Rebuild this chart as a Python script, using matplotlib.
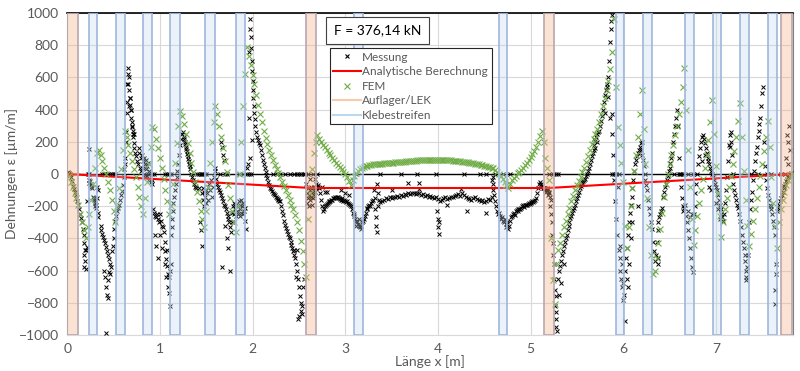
import numpy as np
import matplotlib.pyplot as plt
from matplotlib.lines import Line2D

plt.rcParams['font.family'] = ['Lato', 'DejaVu Sans']

# FEM results, one node every 2 cm from x = 0 to x = 7.82 m
FEM_STEP = 0.02
FEM_Y = [
    0, -15, -50, -80, -115, -150, -195, -250, -300, -350,          # 0.00
    -400, -330, -250, -160, -60, 40, 130, 150, 120, 80,            # 0.20
    40, 0, -50, -100, -160, -230, -300, -200, -90, 30,             # 0.40
    150, 270, 230, 180, 130, 80, 30, -20, -80, -140,               # 0.60
    -200, -250, -150, -50, 60, 170, 290, 280, 220, 160,            # 0.80
    100, 40, -30, -100, -170, -250, -200, -60, 70, 190,            # 1.00
    300, 390, 360, 310, 250, 190, 130, 70, 10, -50,                # 1.20
    -110, -170, -230, -280, -330, -230, -80, 70, 200, 320,         # 1.40
    420, 370, 300, 230, 160, 80, 10, -70, -150, -230,              # 1.60
    -300, -360, -200, 0, 200, 420, 620, 790, 730, 680,             # 1.80
    615, 560, 490, 430, 375, 320, 270, 224, 185, 150,              # 2.00
    120, 85, 56, 30, 5, -20, -50, -75, -100, -130,                 # 2.20
    -160, -190, -220, -255, -300, -350, -416, -480, -560, -640,    # 2.40
    -280, -120, 30, 130, 200, 245, 220, 200, 180, 165,             # 2.60
    150, 130, 115, 100, 85, 70, 55, 43, 30, 15,                    # 2.80
    0, -20, -45, -70, -40, -15, 5, 20, 30, 38,                     # 3.00
    44, 48, 52, 55, 57, 60, 61, 62, 63, 64,                        # 3.20
    65, 66, 67, 68, 69, 70, 71, 72, 73, 74,                        # 3.40
    75, 76, 77, 78, 79, 80, 81, 82, 83, 84,                        # 3.60
    84, 85, 86, 86, 87, 87, 88, 88, 88, 88,                        # 3.80
    88, 88, 87, 87, 86, 86, 85, 84, 83, 82,                        # 4.00
    81, 80, 79, 77, 76, 74, 72, 70, 68, 66,                        # 4.20
    64, 62, 60, 57, 54, 51, 48, 45, 41, 37,                        # 4.40
    35, 25, 12, 0, -10, -30, -50, -70, -85, -60,                   # 4.60
    -40, -25, -10, 5, 15, 25, 40, 55, 70, 85,                      # 4.80
    105, 125, 145, 170, 200, 235, 270, 200, 100, 40,               # 5.00
    -40, -400, -660, -810, -560, -470, -430, -380, -330, -290,     # 5.20
    -250, -210, -170, -135, -100, -70, -45, -20, 10, 40,           # 5.40
    75, 110, 150, 185, 220, 250, 280, 320, 370, 420,               # 5.60
    470, 520, 580, 650, 760, 960, 540, 290, 180, 70,               # 5.80
    -50, -320, -460, -330, -200, -90, 20, 120, 230, 370,           # 6.00
    520, 280, 60, -150, -330, -500, -620, -600, -520, -430,        # 6.20
    -340, -240, -140, -60, 0, 60, 120, 180, 240, 300,              # 6.40
    370, 450, 540, 660, 400, 150, -80, -280, -440, -350,           # 6.60
    -260, -180, -100, -30, 40, 120, 210, 320, 460, 250,            # 6.80
    50, -120, -260, -390, -300, -220, -150, -80, -10, 60,          # 7.00
    140, 230, 330, 440, 230, 20, -160, -320, -450, -370,           # 7.20
    -290, -220, -150, -80, -10, 60, 140, 230, 330, 170,            # 7.40
    -20, -180, -320, -460, -300, -220, -160, -110, -70, -40,       # 7.60
    -15, 0,                                                        # 7.80
]

ANALYT_X = [0.0, 2.63, 5.19, 7.82]
ANALYT_Y = [0, -87, -87, 0]

AUFLAGER = [(0.0, 0.12), (2.58, 2.69), (5.14, 5.25), (7.70, 7.82)]
KLEBESTREIFEN = [(0.23, 0.32), (0.53, 0.62), (0.82, 0.92), (1.11, 1.22),
                 (1.49, 1.59), (1.82, 1.92), (3.09, 3.19), (4.66, 4.75),
                 (5.92, 6.01), (6.21, 6.31), (6.67, 6.76), (6.97, 7.06),
                 (7.26, 7.36), (7.56, 7.66)]

# measured strains (x [m], eps [um/m]), first field 0 - 2.57 m
mess_span1 = [
    (0.00, 5), (0.01, 10), (0.02, 5), (0.03, 0), (0.04, -20), (0.05, -45), (0.06, -75),
    (0.07, -95), (0.08, -110), (0.09, -130), (0.10, -150), (0.11, -170), (0.12, -195),
    (0.13, -220), (0.14, -250), (0.15, -275), (0.16, -300), (0.17, -340), (0.18, -380),
    (0.185, -430), (0.19, -470), (0.18, -500), (0.19, -540), (0.185, -580), (0.20, -590),
    (0.21, -455), (0.20, -470), (0.215, -170), (0.23, 155), (0.22, 0), (0.24, 0),
    (0.23, -40), (0.24, -55), (0.245, -70), (0.25, -45), (0.255, -80), (0.26, -60),
    (0.27, -90), (0.28, -140), (0.285, -160), (0.29, -150), (0.295, -180), (0.30, -200),
    (0.305, -170), (0.31, -210), (0.315, -190), (0.32, -150), (0.325, -80), (0.33, -100),
    (0.33, -240), (0.335, -270),
    (0.36, -320), (0.37, -345), (0.38, -370), (0.39, -390), (0.40, -410), (0.41, -430),
    (0.42, -455), (0.43, -480), (0.44, -500), (0.45, -530), (0.46, -560), (0.41, -640),
    (0.40, -600), (0.42, -700), (0.43, -750), (0.44, -770), (0.45, -610), (0.46, -620),
    (0.47, -580), (0.42, -990), (0.44, -660),
    (0.38, 0), (0.40, 0), (0.42, 0), (0.44, 0), (0.46, 0), (0.48, 0), (0.50, 0), (0.52, 0),
    (0.48, -480), (0.49, -450), (0.50, -400), (0.51, -340), (0.52, -290), (0.53, -260),
    (0.54, -230), (0.55, -210), (0.56, -190), (0.57, -160), (0.58, -130), (0.59, -105),
    (0.60, -70), (0.61, -20), (0.615, 30), (0.62, 60), (0.62, 100),
    (0.63, 200), (0.635, 260), (0.64, 380), (0.645, 450), (0.65, 560), (0.655, 620),
    (0.66, 660), (0.665, 600), (0.67, 520), (0.675, 470), (0.68, 430), (0.685, 400),
    (0.69, 350), (0.695, 320), (0.70, 290), (0.705, 270), (0.71, 250), (0.715, 230),
    (0.72, 190), (0.725, 160), (0.73, 130), (0.66, 560), (0.67, 420), (0.68, 470),
    (0.69, 400), (0.70, 300), (0.72, 250),
    (0.74, 110), (0.75, 80), (0.76, 60), (0.77, 160), (0.78, 130), (0.79, 40), (0.80, 20),
    (0.80, 100), (0.81, 120), (0.82, 80), (0.82, 40), (0.83, 100), (0.83, 0), (0.84, 60),
    (0.84, -20), (0.85, 90), (0.85, 30), (0.86, 50), (0.86, -10), (0.87, 70), (0.87, 0),
    (0.88, 20), (0.88, -30), (0.89, -40), (0.90, -50), (0.91, -60), (0.92, -40),
    (0.92, 0), (0.94, 0),
    (0.93, -220), (0.94, -240), (0.95, -260), (0.96, -270), (0.97, -250), (0.98, -280),
    (0.99, -300), (1.00, -250), (1.01, -290), (1.02, -320), (1.03, -330), (1.04, -360),
    (1.05, -420), (1.06, -480), (1.07, -530), (1.08, -570), (1.09, -620), (1.10, -640),
    (1.11, -600), (0.95, -380), (0.96, -450), (0.98, -520), (1.00, -380), (1.02, -460),
    (1.05, -560), (1.07, -640), (1.09, -700), (1.10, -740), (1.11, -820), (1.12, -560),
    (1.08, -470), (1.05, 0), (1.08, 0), (1.10, 0), (1.12, 0),
    (1.12, -380), (1.13, -330), (1.135, -280), (1.14, -230), (1.145, -180), (1.15, -140),
    (1.16, -100), (1.17, -60), (1.18, -20), (1.19, 20), (1.20, 60), (1.21, 120),
    (1.22, 180), (1.23, 220), (1.24, 250), (1.25, 260),
    (1.26, 230), (1.265, 215), (1.27, 200), (1.275, 185), (1.28, 170), (1.285, 155),
    (1.29, 140), (1.295, 125), (1.30, 110), (1.305, 95), (1.31, 80), (1.315, 65),
    (1.32, 50), (1.33, 30), (1.34, 0), (1.35, -20), (1.36, -40), (1.37, -60), (1.38, -80),
    (1.39, -90),
    (1.40, 0), (1.42, 0), (1.44, 0), (1.46, 0), (1.48, 0), (1.50, 0),
    (1.42, -90), (1.43, -300), (1.44, -350), (1.45, -450), (1.46, -120), (1.47, -90),
    (1.47, -160), (1.48, -110), (1.48, -200), (1.49, -140), (1.50, -100), (1.50, -180),
    (1.51, -120), (1.52, -80), (1.52, -160), (1.53, -60), (1.54, -100), (1.55, -40),
    (1.56, -140), (1.57, -80), (1.58, -20), (1.59, 40),
    (1.60, 20), (1.61, -30), (1.62, -60), (1.63, -80), (1.64, -100), (1.65, -110),
    (1.66, -130), (1.67, -150), (1.68, -170), (1.69, -190), (1.70, -200), (1.71, -220),
    (1.72, -240), (1.73, -260), (1.74, -280), (1.75, -300), (1.76, -330), (1.77, -360),
    (1.78, -300), (1.66, 200), (1.67, 170), (1.68, 120), (1.69, 90), (1.67, -580),
    (1.72, -400), (1.74, -460), (1.76, -600), (1.70, -320), (1.65, 0), (1.70, 0), (1.72, 0),
    (1.78, -240), (1.79, -200), (1.80, -250), (1.80, -180), (1.81, -220), (1.82, -260),
    (1.82, -190), (1.83, -230), (1.84, -200), (1.84, -250), (1.85, -170), (1.86, -220),
    (1.86, -260), (1.87, -190), (1.88, -240), (1.88, -160), (1.89, -200), (1.90, -250),
    (1.90, -180), (1.91, -230), (1.92, -210), (1.92, -290), (1.93, -340),
    (1.85, 0), (1.90, 0), (1.94, 0), (1.96, 0), (1.98, 0), (1.94, 40), (1.95, 60),
    (1.96, 350), (1.965, 760), (1.97, 960), (1.975, 900), (1.98, 850), (1.985, 780),
    (1.99, 700), (1.995, 640), (2.00, 580), (2.005, 520), (2.01, 470), (2.015, 420),
    (2.02, 380), (2.025, 340), (2.03, 300), (2.04, 260), (2.05, 230), (2.06, 210),
    (2.07, 195), (2.08, 180), (2.09, 150), (2.10, 120), (2.11, 85), (2.12, 60), (2.13, 35),
    (2.14, 10), (2.15, -5), (2.16, -25), (2.17, -50), (2.18, -70), (2.19, -85), (2.20, -95),
    (2.21, -105), (2.22, -115), (2.23, -125), (2.24, -130), (2.25, -140), (2.26, -148),
    (2.27, -155), (2.28, -160), (2.29, -165), (2.30, -170), (2.31, -200), (2.32, -230),
    (2.33, -255), (2.34, -290), (2.35, -315), (2.36, -335), (2.37, -355), (2.38, -375),
    (2.39, -390), (2.40, -400), (2.41, -420), (2.42, -440), (2.43, -460), (2.44, -480),
    (2.45, -500), (2.46, -520), (2.47, -560), (2.48, -600), (2.49, -650), (2.50, -700),
    (2.51, -760), (2.52, -800),
    (2.49, -900), (2.52, -850), (2.50, -880), (2.53, -820), (2.54, -700), (2.55, -650),
    (2.48, -470), (2.45, -470), (2.47, -640), (2.53, -870), (1.99, 210), (1.97, 100),
    (2.22, 0), (2.26, 0), (2.30, 0), (2.35, 0), (2.40, 0), (2.45, 0), (2.48, 0), (2.50, 0),
    (2.52, 0), (2.55, 0),
]

# middle field 2.57 - 5.19 m
mess_span2 = [
    (2.57, 0), (2.60, 0), (2.65, 0), (2.70, 0),
    (2.58, -60), (2.59, -120), (2.59, -180), (2.60, -90), (2.60, -150), (2.61, -130),
    (2.61, -200), (2.62, -100), (2.62, -160), (2.63, -80), (2.63, -140), (2.64, -120),
    (2.64, -190), (2.65, -100), (2.65, -150), (2.66, -80), (2.66, -130), (2.67, -110),
    (2.68, -90), (2.69, -60), (2.70, -80), (2.71, -70), (2.72, -90), (2.62, -30), (2.67, -30),
    (2.73, -120), (2.74, -160), (2.75, -200), (2.76, -230), (2.77, -215), (2.78, -200),
    (2.79, -190), (2.80, -185), (2.81, -180), (2.82, -175), (2.83, -170), (2.84, -165),
    (2.85, -160), (2.86, -160), (2.87, -150), (2.88, -150), (2.89, -145), (2.90, -150),
    (2.91, -145), (2.92, -140), (2.93, -150), (2.94, -155), (2.95, -160), (2.96, -150),
    (2.97, -160), (2.98, -165), (2.99, -160), (3.00, -170), (3.01, -175), (3.02, -170),
    (3.03, -180), (3.04, -185), (3.05, -190), (3.06, -200), (3.07, -220),
    (2.75, -80), (2.80, -110), (2.95, -100), (3.00, -120), (3.04, -130), (2.78, -110),
    (3.08, -240), (3.09, -260), (3.10, -250), (3.11, -280), (3.12, -290), (3.13, -300),
    (3.14, -310), (3.15, -320), (3.16, -330), (3.17, -320), (3.18, -300), (3.19, -290),
    (3.20, -280), (3.21, -260), (3.22, -240), (3.23, -220), (3.24, -210), (3.25, -200),
    (3.26, -190), (3.27, -200), (3.28, -180), (3.29, -170), (3.30, -160), (3.15, -280),
    (3.17, -340), (3.12, -320),
    (3.31, -100), (3.32, -150), (3.32, -220), (3.33, -270), (3.33, -320), (3.34, -360),
    (3.34, -60), (3.35, -200), (3.35, -120),
    (3.36, -160), (3.38, -175), (3.40, -165), (3.42, -160), (3.44, -150), (3.46, -155),
    (3.48, -145), (3.50, -150), (3.52, -140), (3.54, -145), (3.56, -135), (3.58, -140),
    (3.60, -130), (3.62, -135), (3.64, -125), (3.66, -130), (3.68, -120), (3.70, -125),
    (3.72, -115), (3.74, -120), (3.76, -125), (3.78, -115), (3.80, -120), (3.82, -130),
    (3.84, -125), (3.86, -135), (3.88, -130), (3.90, -140), (3.92, -135), (3.94, -145),
    (3.96, -150), (3.98, -140), (4.00, -155), (4.02, -165), (4.04, -160), (4.06, -150),
    (4.08, -145), (4.10, -155), (4.12, -150), (4.14, -140), (4.16, -145), (4.18, -135),
    (4.20, -130), (4.22, -125), (4.24, -135), (4.26, -120), (4.28, -130), (4.30, -140),
    (4.32, -150), (4.34, -155), (4.36, -160), (4.38, -150), (4.40, -145), (4.42, -155),
    (4.44, -160), (4.46, -170), (4.48, -160), (4.50, -175), (4.52, -165), (4.54, -155),
    (4.56, -160), (4.58, -140),
    (3.99, -230), (4.00, -280), (4.00, -330), (4.01, -370), (4.01, -300),
    (3.68, -55), (3.80, -55), (3.80, -95), (4.25, -95), (4.31, -230), (4.52, -240),
    (3.50, -100), (4.10, -190),
    (3.12, 0), (3.38, 0), (3.60, 0), (3.78, 0), (3.98, 0), (4.28, 0), (4.45, 0), (4.52, 0),
    (4.62, 0), (4.70, 0), (4.78, 0),
    (4.58, -40), (4.59, -20), (4.60, -60), (4.60, -100), (4.61, -130),
    (4.62, -170), (4.63, -200), (4.64, -230), (4.65, -250), (4.66, -240), (4.67, -260),
    (4.68, -280), (4.69, -270), (4.70, -290), (4.71, -300), (4.72, -280), (4.73, -310),
    (4.74, -330), (4.75, -300), (4.76, -340), (4.77, -320), (4.78, -290), (4.79, -270),
    (4.80, -260), (4.81, -250), (4.82, -240), (4.83, -255), (4.84, -230), (4.85, -225),
    (4.86, -230), (4.87, -215), (4.88, -220), (4.89, -215), (4.90, -210), (4.91, -200),
    (4.92, -195), (4.93, -205), (4.94, -190), (4.95, -195), (4.96, -190), (4.97, -185),
    (4.98, -180), (4.99, -185), (5.00, -180), (5.01, -175), (5.02, -170), (5.03, -175),
    (5.04, -165), (5.05, -160), (5.06, -150), (5.07, -120), (5.08, -90), (5.09, -65),
    (5.10, -50), (5.11, -60), (5.12, -75), (5.13, -85), (5.14, -90), (5.15, -85),
    (5.16, -90), (5.17, -95), (5.18, -100), (5.19, -95),
]

# last field 5.19 - 7.82 m
mess_span3 = [
    (5.16, -100), (5.17, -110), (5.18, -90), (5.19, -130), (5.20, -110),
    (5.20, -120), (5.21, -140), (5.21, -200), (5.22, -160), (5.22, -250), (5.23, -300),
    (5.23, -380), (5.24, -430), (5.24, -500), (5.25, -560), (5.25, -650), (5.26, -720),
    (5.26, -820), (5.27, -900), (5.28, -950), (5.29, -975), (5.27, -760), (5.28, -860),
    (5.20, 0), (5.24, 0), (5.27, 0), (5.30, 0),
    (5.30, -650), (5.31, -600), (5.32, -570), (5.33, -540), (5.34, -500), (5.35, -480),
    (5.36, -450), (5.37, -420), (5.38, -400), (5.39, -380), (5.40, -350), (5.41, -320),
    (5.42, -300), (5.43, -275), (5.44, -260), (5.45, -240), (5.46, -225), (5.47, -210),
    (5.48, -190), (5.49, -170), (5.50, -150), (5.51, -130), (5.52, -110), (5.53, -90),
    (5.54, -75), (5.55, -60), (5.56, -50), (5.57, -45), (5.58, -40), (5.59, -30),
    (5.60, -15), (5.61, 0), (5.62, 20), (5.63, 40), (5.64, 60), (5.65, 90), (5.66, 110),
    (5.67, 130), (5.68, 150), (5.69, 180), (5.70, 205), (5.71, 230), (5.72, 250),
    (5.73, 260), (5.74, 270), (5.75, 300), (5.76, 330), (5.77, 360), (5.78, 400),
    (5.79, 450), (5.80, 490), (5.81, 520), (5.82, 540), (5.83, 560), (5.84, 600),
    (5.85, 700), (5.86, 820), (5.865, 900), (5.87, 950), (5.875, 990),
    (5.31, -750), (5.33, -680), (5.36, -560), (5.69, 220), (5.70, 160), (5.72, 200),
    (5.80, 380), (5.86, 350), (5.88, 370), (5.84, 480),
    (5.88, 0), (5.90, 0), (5.92, 0), (5.95, 0),
    (5.88, 250), (5.89, 120), (5.90, -40), (5.91, -170), (5.92, -280), (5.93, -380),
    (5.94, -80), (5.95, -470), (5.96, -520), (5.97, -600), (5.98, -650), (5.99, -700),
    (6.00, -680), (6.01, -750), (6.02, -910), (5.97, -450), (5.99, -560), (6.00, -780),
    (6.02, -600), (6.03, -520), (6.04, -460), (6.05, -380), (6.06, -300), (6.07, -240),
    (6.08, -190), (6.09, -140), (6.10, -90), (6.11, -40), (6.12, 20), (6.13, 60),
    (6.14, 90), (6.15, 110), (6.16, 130), (6.17, 150), (6.18, 170), (6.19, 150),
    (6.20, 120), (6.21, 90), (6.22, 50), (6.23, 0), (6.24, -40), (6.25, -70),
    (6.26, -100), (6.27, -160), (6.28, -210), (6.29, -250), (6.30, -300), (6.31, -340),
    (6.32, -420), (6.33, -480), (6.34, -540),
    (6.04, -650), (6.05, -700), (6.06, -560), (6.08, -400), (6.10, -300), (6.16, -200),
    (6.20, 200), (6.19, 190),
    (6.35, -500), (6.36, -420), (6.37, -350), (6.38, -300), (6.39, -270), (6.40, -250),
    (6.41, -230), (6.42, -210), (6.43, -140), (6.44, -110), (6.45, -80), (6.46, -60),
    (6.47, -40), (6.48, -10), (6.49, 20), (6.50, 40), (6.51, 70), (6.52, 100),
    (6.53, 130), (6.54, 200), (6.55, 250), (6.56, 300), (6.57, 350), (6.58, 400),
    (6.37, -560), (6.38, -520),
    (6.59, 300), (6.60, 100), (6.61, 0), (6.62, -80), (6.63, -150), (6.64, -200),
    (6.65, -230), (6.66, -210), (6.67, -190), (6.68, -260), (6.69, -300), (6.70, -350),
    (6.71, -400), (6.72, -460), (6.73, -520), (6.74, -580), (6.75, -610), (6.74, -250),
    (6.72, -270), (6.70, -230),
    (6.55, 0), (6.60, 0), (6.62, 0), (6.65, 0), (6.70, 0), (6.75, 0),
    (6.76, -250), (6.77, -200), (6.78, -120), (6.79, -60), (6.80, 0), (6.81, 60),
    (6.82, 110), (6.83, 160), (6.84, 200), (6.85, 230), (6.86, 240), (6.87, 220),
    (6.88, 190), (6.89, 160), (6.90, 130), (6.91, 100), (6.92, 80), (6.93, 60),
    (6.94, 40), (6.95, 20), (6.96, 0), (6.97, -20), (6.98, -40), (6.99, -60),
    (7.00, -80), (7.01, -100), (7.02, -130), (7.03, -160), (7.04, -190), (7.05, -220),
    (7.06, -250), (7.07, -270), (7.08, -290),
    (6.85, 80), (6.88, 120), (6.93, -80), (6.95, -100), (7.00, -180), (7.02, -220),
    (7.04, -280),
    (7.09, -250), (7.10, -180), (7.11, -100), (7.12, -20), (7.13, 80), (7.14, 180),
    (7.15, 240), (7.16, 200), (7.17, 120), (7.18, 0), (7.19, -60), (7.20, -100),
    (7.21, -130), (7.22, -160), (7.23, -190), (7.24, -210), (7.25, -250), (7.26, -290),
    (7.27, -330), (7.28, -380), (7.29, -420), (7.30, -460), (7.31, -540), (7.32, -600),
    (7.33, -640), (7.34, -580), (7.35, -500),
    (7.15, 170), (7.16, 260), (7.33, -660), (7.31, -500),
    (7.36, -300), (7.37, -220), (7.38, -160), (7.39, -110), (7.40, -40), (7.41, 20),
    (7.42, 80), (7.43, 130), (7.44, 170), (7.45, 230), (7.46, 270), (7.47, 310),
    (7.48, 350), (7.49, 420), (7.50, 500), (7.505, 540),
    (7.52, 200), (7.53, 50), (7.54, -40), (7.55, -90), (7.56, -130), (7.57, -160),
    (7.58, -190), (7.59, -200), (7.60, -220), (7.61, -250), (7.62, -290), (7.63, -330),
    (7.64, -380), (7.645, -560), (7.65, -620), (7.64, -810), (7.64, -720),
    (7.66, -230), (7.67, -210), (7.68, -190), (7.69, -170), (7.70, -150), (7.71, -130),
    (7.72, -110), (7.73, -90), (7.74, -75), (7.75, -60), (7.76, -45), (7.77, -30),
    (7.78, -20), (7.79, -10), (7.80, 0), (7.81, 5),
    (7.77, 240), (7.78, 200), (7.79, 300), (7.76, 100), (7.80, 150), (7.78, 60),
    (7.38, 0), (7.45, 0), (7.55, 0), (7.60, 0), (7.70, 0), (7.75, 0),
]

GRAY = '#595959'

fig, ax = plt.subplots(figsize=(8, 3.71), dpi=100)
fig.subplots_adjust(left=0.084, right=0.991, top=0.965, bottom=0.097)

ax.set_xlim(0, 7.83)
ax.set_ylim(-1000, 1000)
ax.set_xticks(range(0, 8))
ax.set_yticks(range(-1000, 1001, 200))
ax.grid(color='#d9d9d9', lw=0.8)
ax.set_axisbelow(True)
ax.tick_params(axis='y', length=0, colors=GRAY, labelsize=10, pad=6)
ax.tick_params(axis='x', length=0, colors=GRAY, labelsize=10, pad=6)
ax.spines['top'].set_color('black')
ax.spines['top'].set_linewidth(1.2)
ax.spines['bottom'].set_color('#d9d9d9')
ax.spines['left'].set_color('#a6a6a6')
ax.spines['right'].set_color('#808080')

ax.axhline(0, color='black', lw=1, zorder=2)

mess = mess_span1 + mess_span2 + mess_span3
mess_x = [p[0] for p in mess]
mess_y = [p[1] for p in mess]
ax.plot(mess_x, mess_y, ls='none', marker='x', ms=2.2, mew=0.7, color='black', zorder=3)

ax.plot(ANALYT_X, ANALYT_Y, color='red', lw=1.5, zorder=4)

fem_x = np.arange(len(FEM_Y)) * FEM_STEP
ax.plot(fem_x, FEM_Y, ls='none', marker='x', ms=4, mew=0.8, color='#70ad47', zorder=5)

for a, b in AUFLAGER:
    ax.axvspan(a, b, facecolor=(0.96, 0.69, 0.51, 0.35), edgecolor='#b9a6b0', lw=1.2, zorder=6)
for a, b in KLEBESTREIFEN:
    ax.axvspan(a, b, facecolor=(0.74, 0.84, 0.93, 0.3), edgecolor='#9fb6dc', lw=1.2, zorder=6)

handles = [
    Line2D([], [], ls='none', marker='x', ms=3, mew=0.8, color='black'),
    Line2D([], [], color='red', lw=1.5),
    Line2D([], [], ls='none', marker='x', ms=4, mew=0.8, color='#70ad47'),
    Line2D([], [], color='#f8cbad', lw=1.5),
    Line2D([], [], color='#bdd7ee', lw=1.5),
]
labels = ['Messung', 'Analytische Berechnung', 'FEM', 'Auflager/LEK', 'Klebestreifen']
leg = ax.legend(handles, labels, loc='upper left', bbox_to_anchor=(0.362, 0.891),
                frameon=True, fancybox=False, edgecolor='#262626', framealpha=1,
                fontsize=8.5, labelcolor=GRAY, borderaxespad=0, handlelength=2.3,
                handletextpad=0.15, labelspacing=0.3, borderpad=0.3)
leg.set_zorder(10)
leg.get_frame().set_linewidth(0.8)

ax.text(0.428, 0.946, 'F = 376,14 kN', transform=ax.transAxes, ha='center', va='center',
        fontsize=10, color='black', zorder=11,
        bbox=dict(boxstyle='square,pad=0.55', fc='white', ec='#404040', lw=0.8))

ax.set_ylabel('Dehnungen ε [µm/m]', color=GRAY, fontsize=10)
ax.set_xlabel('Länge x [m]', color=GRAY, fontsize=10)
ax.yaxis.set_label_coords(-0.068, 0.5)
ax.xaxis.set_label_coords(0.5, -0.062)

fig.savefig('out.png', dpi=100)
